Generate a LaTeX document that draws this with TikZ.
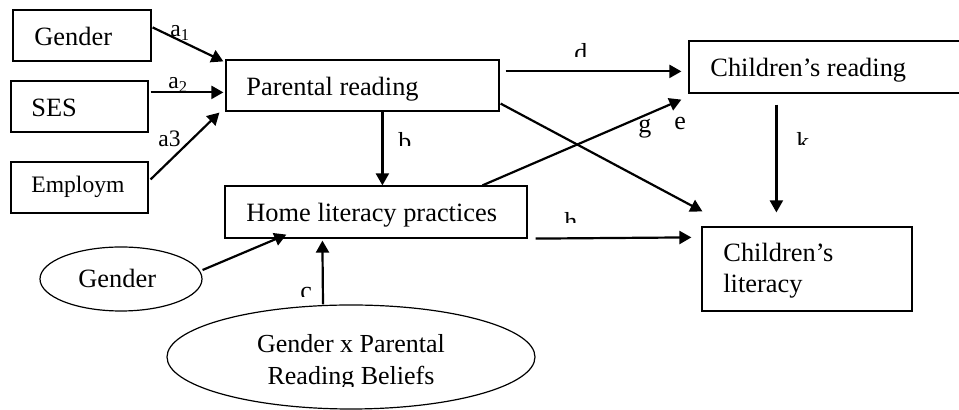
\documentclass[tikz,border=0pt]{standalone}
\usepackage{fontspec}
\setmainfont{Liberation Serif}
\usetikzlibrary{arrows.meta,calc,fit,shapes.geometric}
\begin{document}
\begin{tikzpicture}[x=0.5pt,y=-0.5pt,
  box/.style={draw,line width=0.6pt,inner sep=0pt},
  oval/.style={draw,ellipse,line width=0.6pt,inner sep=0pt},
  txt/.style={anchor=base west,inner sep=0pt,font=\fontsize{13.2}{15}\selectfont},
  smalltxt/.style={anchor=base west,inner sep=0pt,font=\fontsize{11.8}{14}\selectfont},
  ctxt/.style={anchor=base,inner sep=0pt,font=\fontsize{13}{15}\selectfont},
  lab/.style={anchor=base west,inner sep=0pt,font=\fontsize{13}{15}\selectfont},
  alab/.style={anchor=base west,inner sep=0pt,font=\fontsize{11.8}{14}\selectfont},
  arr/.style={line width=1.1pt,-{Triangle[length=6pt,width=6.5pt]}}]
\clip (0,0) rectangle (959,410);
% boxes
\node[box,fit={(13,10)(151,61)}] (g1) {};
\node[box,fit={(11,81)(148,132)}] (ses) {};
\node[box,fit={(11,162)(148,213)}] (emp) {};
\node[box,fit={(226,60)(499,111)}] (pr) {};
\node[box,fit={(225,186)(527,238)}] (hlp) {};
\node[box,fit={(689,41)(1000,93)}] (cr) {};
\node[box,fit={(702,227)(912,311)}] (cl) {};
\node[oval,minimum width=81pt,minimum height=32pt] (ge) at (121,279) {};
\node[oval,minimum width=184pt,minimum height=52pt] (gb) at (351,357) {};
% texts
\node[txt] (tg1) at (34,46) {Gender};
\node[txt] (tses) at (31,117) {SES};
\node[smalltxt] (temp) at (31,193) {Employm};
\node[txt] (tpr) at (246,96) {Parental reading};
\node[txt] (thlp) at (246,222) {Home literacy practices};
\node[txt] (tcr) at (710,77) {Children’s reading};
\node[txt] (tcl1) at (723,262) {Children’s};
\node[txt] (tcl2) at (723,293) {literacy};
\node[txt] (tge) at (78,288) {Gender};
\begin{scope}
\clip (150,300) rectangle (550,387);
\node[ctxt] (tgb1) at (351,353) {Gender x Parental};
\node[ctxt] (tgb2) at (351,385) {Reading Beliefs};
\end{scope}
% connectors
\draw[arr] ($(g1.north east)+(1,18)$) -- ($(pr.north west)+(-2,2)$);
\draw[arr] ($(ses.north east)+(2,12)$) -- ($(pr.north west)+(-2,33)$);
\draw[arr] ($(emp.north east)+(2,18)$) -- ($(pr.south west)+(-6,1)$);
\draw[arr] ($(pr.south west)+(157,0)$) -- ($(hlp.north west)+(158,0)$);
\draw[arr] ($(pr.north east)+(6,12)$) -- ($(cr.north west)+(-7,31)$);
\draw[arr] ($(pr.south east)+(1,-8)$) -- ($(cl.north west)+(1,-15)$);
\draw[arr] ($(hlp.north west)+(258,0)$) -- ($(cr.south west)+(-7,6)$);
\draw[arr] ($(hlp.south east)+(8,0)$) -- ($(cl.north west)+(-10,11)$);
\draw[arr] ($(cr.south west)+(88,11)$) -- ($(cl.north west)+(75,-14)$);
\draw[arr] ($(ge.east)+(0,-9)$) -- ($(hlp.south west)+(62,-4)$);
\draw[arr] ($(gb.north)+(-28,0)$) -- ($(hlp.south west)+(98,2)$);
% labels
\node[alab] (la1) at (170,37) {a\textsubscript{1}};
\node[alab] (la2) at (168,89) {a\textsubscript{2}};
\node[alab] (la3) at (158,147) {a3};
\node[lab] (le) at (674,130) {e};
\node[lab] (lg) at (638,133) {g};
\begin{scope}
\clip (390,120) rectangle (420,146);
\node[lab] (lb) at (398,150.5) {b};
\end{scope}
\begin{scope}
\clip (565,30) rectangle (600,57);
\node[lab] (ld) at (574,62) {d};
\end{scope}
\begin{scope}
\clip (555,200) rectangle (590,223);
\node[lab] (lh) at (564,230.5) {h};
\end{scope}
\begin{scope}
\clip (790,120) rectangle (820,145);
\node[lab] (lk) at (796,150.5) {k};
\end{scope}
\begin{scope}
\clip (295,275) rectangle (320,297);
\node[lab] (lc) at (300,300) {c};
\end{scope}
\end{tikzpicture}
\end{document}
